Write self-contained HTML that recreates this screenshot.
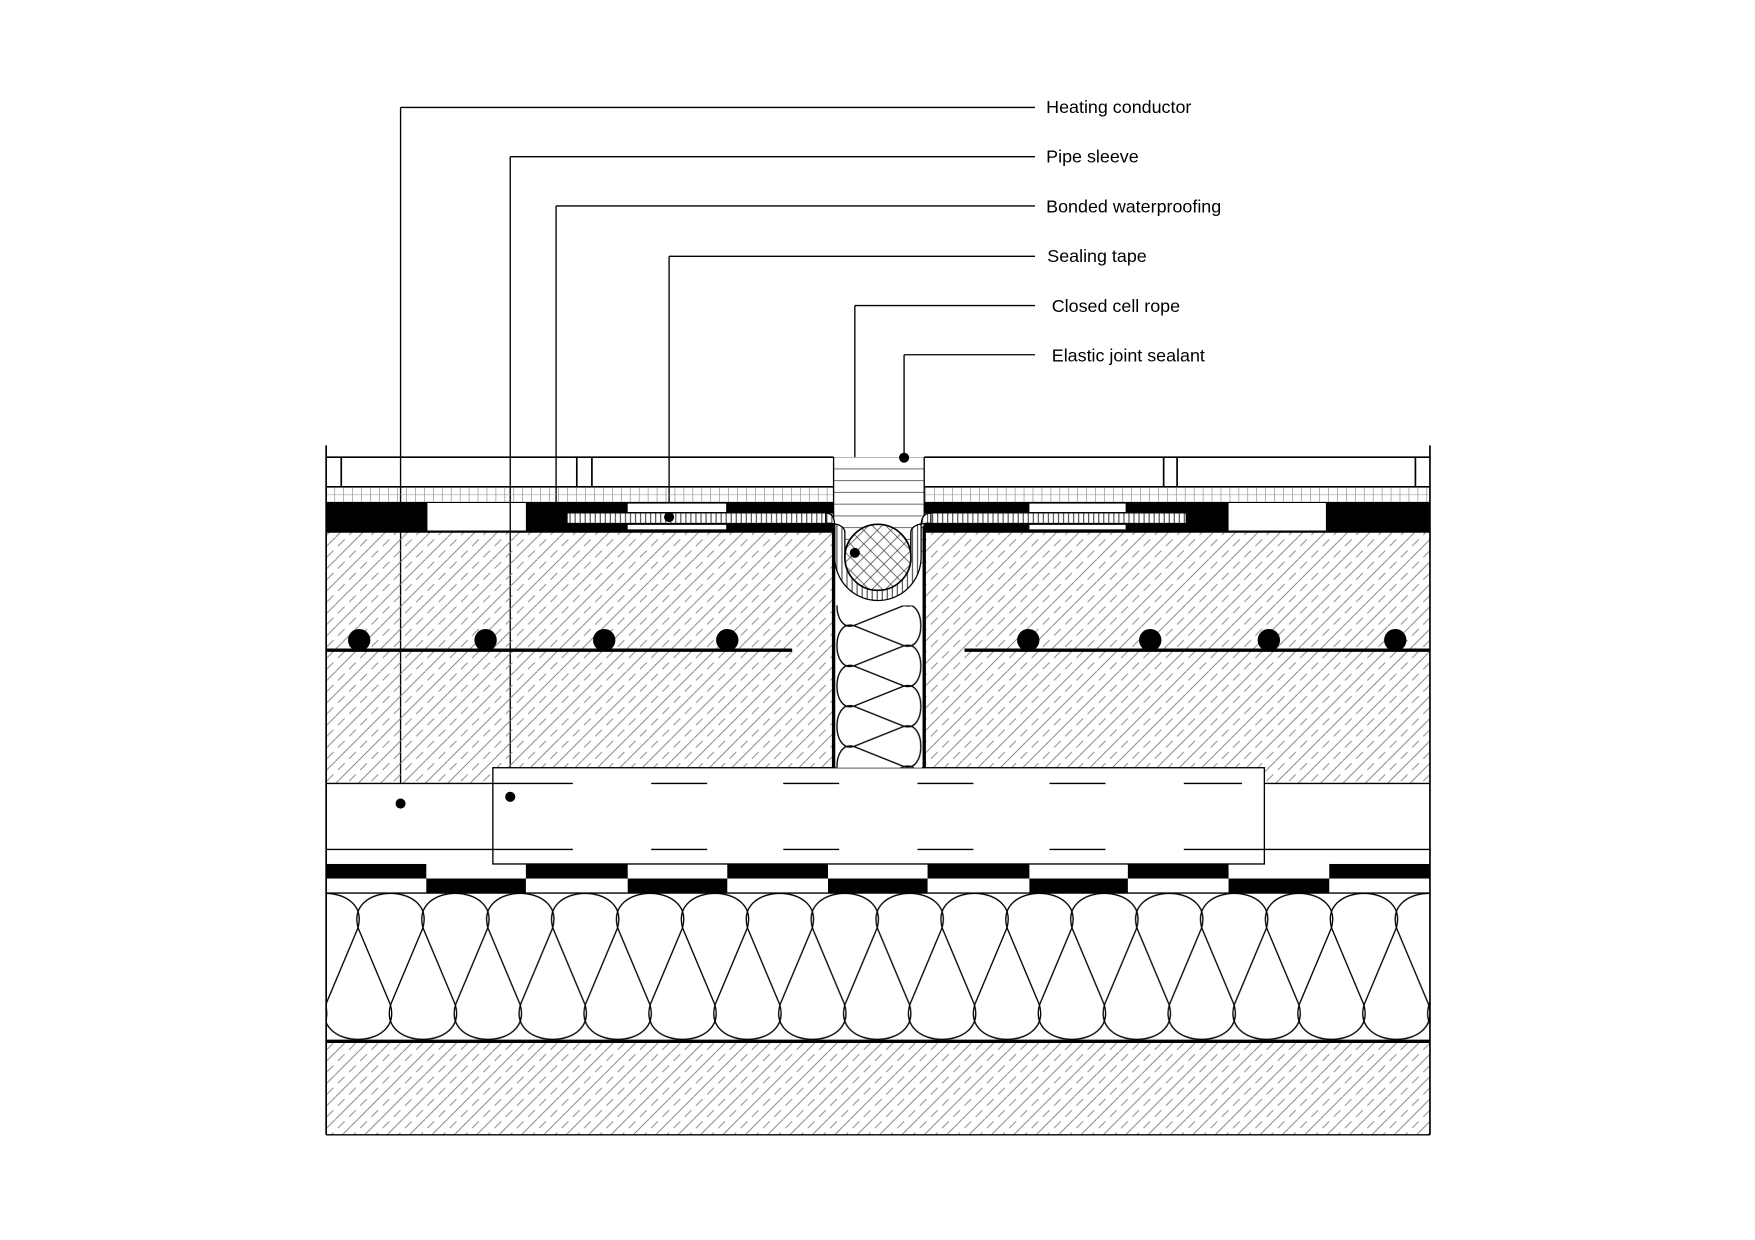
<!DOCTYPE html>
<html><head><meta charset="utf-8"><style>
html,body{margin:0;padding:0;background:#fff;}
svg{display:block;}
text{font-family:"Liberation Sans",Arial,sans-serif;font-size:16px;fill:#000;}
</style></head><body>
<svg width="1755" height="1240" viewBox="0 0 1568.5 1108" preserveAspectRatio="none" xmlns="http://www.w3.org/2000/svg">
<defs>
<pattern id="conc" patternUnits="userSpaceOnUse" width="20" height="20">
<path d="M-2,22 L22,-2" stroke="#777" stroke-width="0.8"/>
<path d="M2,8 L8,2 M12,18 L18,12" stroke="#888" stroke-width="0.8"/>
</pattern>
<pattern id="mort" patternUnits="userSpaceOnUse" x="291" y="435" width="8" height="14">
<path d="M0,0 V14" stroke="#555" stroke-width="0.8"/>
<path d="M0,7 H8" stroke="#999" stroke-width="0.5"/>
</pattern>
<pattern id="vh" patternUnits="userSpaceOnUse" width="4.5" height="10">
<path d="M1,0 V10" stroke="#333" stroke-width="0.9"/>
</pattern>
<pattern id="hh" patternUnits="userSpaceOnUse" x="0" y="408" width="10" height="10.5">
<path d="M0,0.5 H10" stroke="#444" stroke-width="0.7"/>
</pattern>
<pattern id="xh" patternUnits="userSpaceOnUse" x="784" y="498" width="12" height="12">
<path d="M0,0 L12,12 M12,0 L0,12" stroke="#444" stroke-width="0.7"/>
</pattern>
<pattern id="ins" patternUnits="userSpaceOnUse" x="291" y="798" width="58" height="132">
<g fill="none" stroke="#000" stroke-width="1.2">
<path d="M-29,31 C-40,-10 40,-10 29,31"/>
<path d="M29,31 C18,-10 98,-10 87,31"/>
<path d="M-58,100 C-69,141 11,141 0,100"/>
<path d="M0,100 C-11,141 69,141 58,100"/>
<path d="M58,100 C47,141 127,141 116,100"/>
<path d="M29,31 L0,100 M29,31 L58,100 M-29,31 L0,100 M87,31 L58,100"/>
</g>
</pattern>
<pattern id="jins" patternUnits="userSpaceOnUse" x="745" y="541" width="81" height="36">
<g fill="none" stroke="#000" stroke-width="1.2">
<path d="M18,-18 C-2,-24 -2,24 18,18"/>
<path d="M18,18 C-2,12 -2,60 18,54"/>
<path d="M63,0 C83,-6 83,42 63,36"/>
<path d="M63,-36 C83,-42 83,6 63,0"/>
<path d="M63,36 C83,30 83,78 63,72"/>
<path d="M18,18 L63,0 M18,18 L63,36 M18,-18 L63,0 M18,54 L63,36"/>
</g>
</pattern>
<clipPath id="rope"><circle cx="784.6" cy="498" r="29.5"/></clipPath>
</defs>

<g stroke="#000" stroke-width="1.2" fill="none">
<path d="M358,96 H925 M358,96 V718"/>
<path d="M456,140 H925 M456,140 V712"/>
<path d="M497,184 H925 M497,184 V449"/>
<path d="M598,229 H925 M598,229 V462"/>
<path d="M764,273 H925 M764,273 V494"/>
<path d="M808,317 H925 M808,317 V409"/>
</g>
<text x="935" y="101">Heating conductor</text>
<text x="935" y="145">Pipe sleeve</text>
<text x="935" y="190">Bonded waterproofing</text>
<text x="936" y="234">Sealing tape</text>
<text x="940" y="279">Closed cell rope</text>
<text x="940" y="323">Elastic joint sealant</text>

<rect x="291.5" y="475" width="452" height="225" fill="url(#conc)"/>
<rect x="826" y="475" width="452" height="225" fill="url(#conc)"/>
<rect x="291.5" y="700" width="986.5" height="72" fill="#fff"/>
<rect x="440.5" y="686" width="689.5" height="86" fill="#fff" stroke="#000" stroke-width="1.2"/>
<g stroke="#000" stroke-width="1.2">
<path d="M291.5,700 H512 M582,700 H632 M700,700 H750 M820,700 H870 M938,700 H988 M1058,700 H1110 M1130,700 H1278"/>
<path d="M291.5,759 H512 M582,759 H632 M700,759 H750 M820,759 H870 M938,759 H988 M1058,759 H1278"/>
<path d="M291.5,475 H743.5 M826,475 H1278" stroke-width="2"/>
</g>
<g stroke="#000" stroke-width="3">
<path d="M291.5,581 H708 M862,581 H1278"/>
</g>
<g fill="#000">
<circle cx="321" cy="572" r="10"/><circle cx="434" cy="572" r="10"/><circle cx="540" cy="572" r="10"/><circle cx="650" cy="572" r="10"/>
<circle cx="919" cy="572" r="10"/><circle cx="1028" cy="572" r="10"/><circle cx="1134" cy="572" r="10"/><circle cx="1247" cy="572" r="10"/>
</g>

<g fill="#000">
<rect x="291.5" y="772" width="89.5" height="13"/><rect x="470" y="772" width="91" height="13"/><rect x="650" y="772" width="90" height="13"/><rect x="829" y="772" width="91" height="13"/><rect x="1008" y="772" width="90" height="13"/><rect x="1188" y="772" width="90" height="13"/>
<rect x="381" y="785" width="89" height="13"/><rect x="561" y="785" width="89" height="13"/><rect x="740" y="785" width="89" height="13"/><rect x="920" y="785" width="88" height="13"/><rect x="1098" y="785" width="90" height="13"/>
</g>
<path d="M291.5,798 H1278" stroke="#000" stroke-width="1.2"/>
<rect x="291.5" y="798" width="986.5" height="132" fill="url(#ins)"/>
<path d="M291.5,930.5 H1278" stroke="#000" stroke-width="3"/>
<rect x="291.5" y="932" width="986.5" height="82" fill="url(#conc)"/>
<path d="M291.5,1014 H1278" stroke="#000" stroke-width="1.2"/>

<g stroke="#000" stroke-width="1.5" fill="none">
<path d="M291.5,408.5 H745 M826,408.5 H1278"/>
<path d="M291.5,435 H745 M826,435 H1278"/>
<path d="M305,408.5 V435 M515.5,408.5 V435 M529,408.5 V435 M1040,408.5 V435 M1052,408.5 V435 M1265,408.5 V435"/>
</g>
<rect x="291.5" y="435" width="453.5" height="14" fill="url(#mort)"/>
<rect x="826" y="435" width="452" height="14" fill="url(#mort)"/>
<path d="M291.5,449 H745 M826,449 H1278" stroke="#000" stroke-width="1"/>
<g fill="#000">
<rect x="291.5" y="449" width="90.5" height="26"/>
<rect x="470" y="449" width="275" height="26"/>
<rect x="826" y="449" width="272" height="26"/>
<rect x="1185" y="449" width="93" height="26"/>
</g>
<g fill="#fff">
<rect x="561" y="450" width="88" height="7.5"/>
<rect x="561" y="469" width="88" height="4"/>
<rect x="920" y="450" width="86" height="7.5"/>
<rect x="920" y="469" width="86" height="4"/>
</g>
<rect x="507" y="458.5" width="240" height="9" fill="#fff"/>
<rect x="507" y="458.5" width="240" height="9" fill="url(#vh)" stroke="#000" stroke-width="0.6"/>
<rect x="824" y="458.5" width="236" height="9" fill="#fff"/>
<rect x="824" y="458.5" width="236" height="9" fill="url(#vh)" stroke="#000" stroke-width="0.6"/>

<rect x="745" y="408.5" width="81" height="95" fill="#fff"/>
<rect x="745" y="408.5" width="81" height="95" fill="url(#hh)"/>
<path d="M745,408.5 V475 M826,408.5 V475" stroke="#000" stroke-width="1.2"/>
<path d="M738,458.5 Q746,458.5 746,470 V498 A38.6,38.6 0 0 0 823.2,498 V470 Q823.2,458.5 832,458.5 V467.5 Q814,467.5 814,476 V498 A29.5,29.5 0 0 1 755.1,498 V476 Q755.1,467.5 738,467.5 Z" fill="#fff" stroke="#000" stroke-width="1"/>
<path d="M738,458.5 Q746,458.5 746,470 V498 A38.6,38.6 0 0 0 823.2,498 V470 Q823.2,458.5 832,458.5 V467.5 Q814,467.5 814,476 V498 A29.5,29.5 0 0 1 755.1,498 V476 Q755.1,467.5 738,467.5 Z" fill="url(#vh)" stroke="#000" stroke-width="1"/>
<circle cx="784.6" cy="498" r="29.5" fill="#fff"/>
<rect x="750" y="465" width="70" height="70" fill="url(#xh)" clip-path="url(#rope)"/>
<circle cx="784.6" cy="498" r="29.5" fill="none" stroke="#000" stroke-width="1.5"/>
<rect x="747" y="541" width="77" height="145" fill="#fff"/>
<rect x="747" y="541" width="77" height="145" fill="url(#jins)"/>
<path d="M745,470 V686 M826,470 V686" stroke="#000" stroke-width="3"/>

<path d="M291.5,398 V1014 M1278,398 V1014" stroke="#000" stroke-width="1.5"/>

<g fill="#000">
<circle cx="358" cy="718" r="4.5"/><circle cx="456" cy="712" r="4.5"/>
<circle cx="598" cy="462" r="4.5"/><circle cx="764" cy="494" r="4.5"/><circle cx="808" cy="409" r="4.5"/>
</g>
</svg>
</body></html>
